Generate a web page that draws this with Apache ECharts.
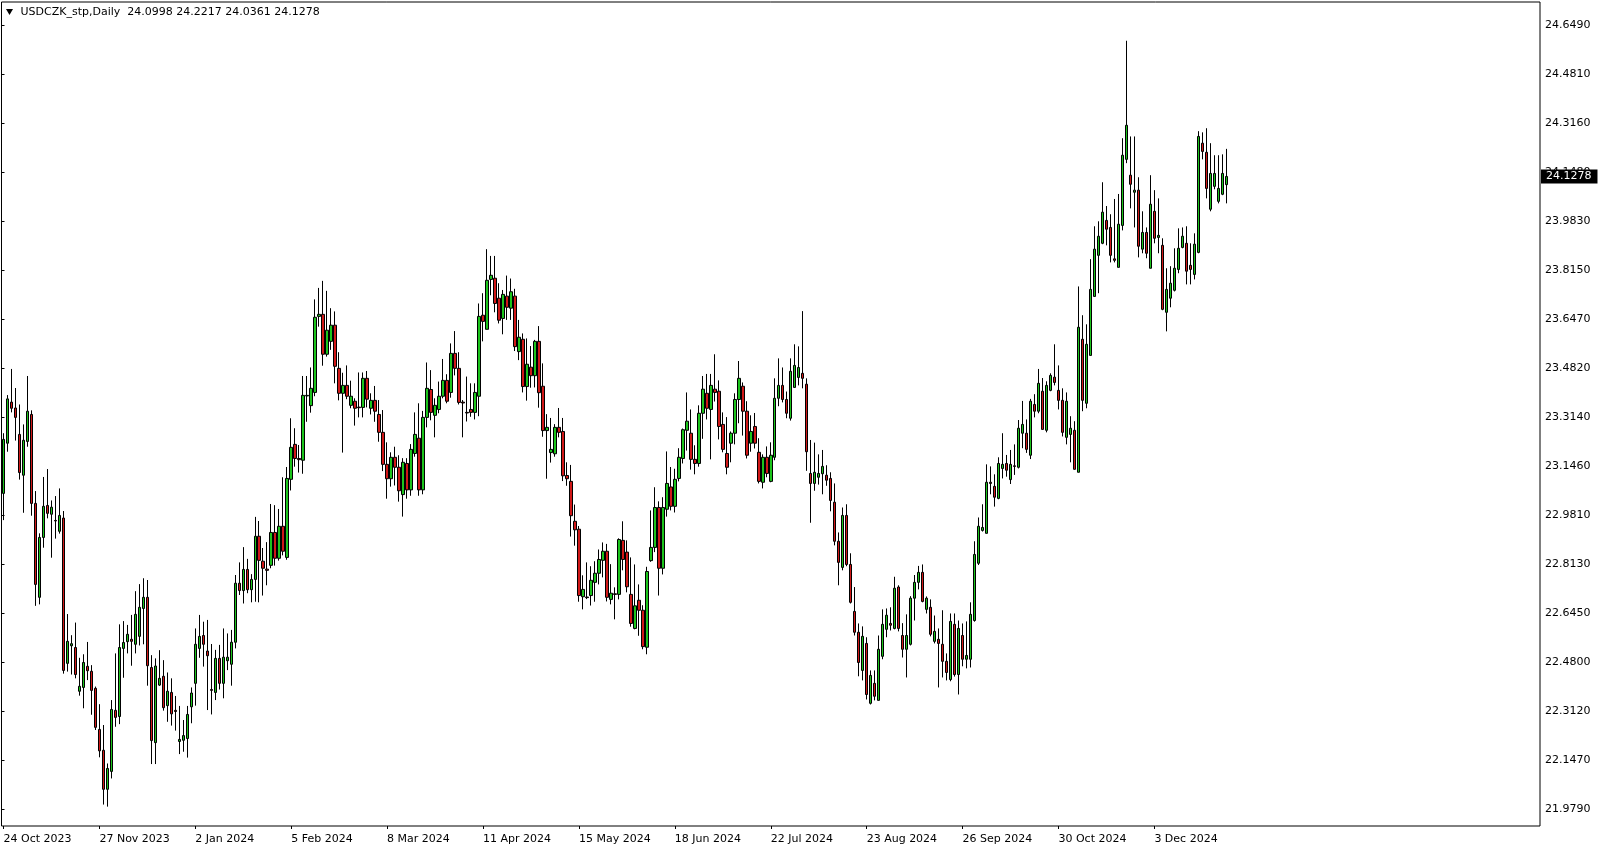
<!DOCTYPE html>
<html>
<head>
<meta charset="utf-8">
<script src="https://cdn.jsdelivr.net/npm/echarts@6/dist/echarts.min.js"></script>
<style>
html,body{margin:0;padding:0;background:#fff;}
#c{width:1604px;height:850px;}
</style>
</head>
<body>
<div id="c"></div>
<script>
const symbolName = 'USDCZK_stp,Daily';
const startDate = '2023-10-24';
const skipDays = ['12-25', '01-01'];
const slotCount = 385;
const labelEvery = 24;
const monthNames = ['Jan','Feb','Mar','Apr','May','Jun','Jul','Aug','Sep','Oct','Nov','Dec'];
const priceTicks = ['21.9790','22.1470','22.3120','22.4800','22.6450','22.8130','22.9810','23.1460','23.3140','23.4820','23.6470','23.8150','23.9830','24.1480','24.3160','24.4810','24.6490'];

const opens = [
23.048,23.219,23.359,23.339,23.249,23.110,23.225,23.317,23.014,22.694,
22.898,23.007,22.977,22.956,22.919,22.964,22.469,22.529,22.523,22.374,
22.387,22.459,22.442,22.384,22.244,22.173,22.040,22.101,22.309,22.288,
22.520,22.543,22.551,22.534,22.561,22.656,22.694,22.455,22.199,22.395,
22.425,22.325,22.370,22.309,22.203,22.207,22.213,22.321,22.401,22.520,
22.564,22.511,22.380,22.370,22.486,22.401,22.478,22.466,22.541,22.742,
22.717,22.789,22.720,22.755,22.902,22.817,22.790,22.803,22.915,22.827,
22.936,22.830,23.096,23.215,23.167,23.161,23.380,23.347,23.392,23.651,
23.658,23.522,23.566,23.621,23.474,23.389,23.416,23.348,23.362,23.342,
23.341,23.440,23.338,23.365,23.317,23.256,23.147,23.098,23.171,23.137,
23.044,23.150,23.060,23.184,23.236,23.060,23.307,23.402,23.314,23.334,
23.379,23.433,23.392,23.525,23.474,23.359,23.324,23.334,23.324,23.379,
23.655,23.607,23.777,23.781,23.713,23.644,23.720,23.679,23.720,23.531,
23.573,23.412,23.478,23.449,23.566,23.413,23.262,23.187,23.183,23.273,
23.259,23.109,23.089,22.953,22.926,22.696,22.695,22.700,22.745,22.776,
22.820,22.851,22.687,22.706,22.704,22.888,22.848,22.704,22.588,22.684,
22.650,22.524,22.819,22.864,23.000,22.793,22.994,23.070,23.004,23.099,
23.167,23.263,23.253,23.164,23.150,23.321,23.389,23.334,23.403,23.396,
23.283,23.184,23.219,23.253,23.368,23.413,23.328,23.219,23.276,23.188,
23.086,23.171,23.089,23.171,23.372,23.416,23.368,23.304,23.409,23.443,
23.457,23.420,23.116,23.082,23.103,23.115,23.110,23.099,23.018,22.885,
22.796,22.973,22.806,22.646,22.575,22.445,22.537,22.333,22.401,22.343,
22.493,22.585,22.605,22.588,22.729,22.564,22.517,22.534,22.691,22.745,
22.779,22.653,22.660,22.544,22.551,22.534,22.476,22.414,22.602,22.431,
22.564,22.483,22.483,22.615,22.810,22.922,22.912,23.086,23.072,23.031,
23.133,23.150,23.095,23.142,23.137,23.253,23.253,23.178,23.351,23.328,
23.396,23.263,23.399,23.444,23.399,23.365,23.239,23.249,23.263,23.120,
23.573,23.355,23.518,23.719,23.859,23.900,23.978,23.954,23.847,23.818,
23.961,24.186,24.132,24.074,24.081,23.880,23.937,23.815,24.009,23.920,
23.893,23.665,23.713,23.740,23.811,23.886,23.900,23.825,23.794,23.869,
24.241,24.210,24.016,24.094,24.043,24.067,24.0998
];
const highs = [
23.253,23.383,23.472,23.407,23.351,23.283,23.448,23.331,23.056,22.912,
23.104,23.131,23.024,23.039,23.065,22.988,22.637,22.565,22.608,22.488,
22.500,22.542,22.463,22.390,22.330,22.259,22.128,22.344,22.503,22.602,
22.613,22.600,22.634,22.715,22.739,22.759,22.753,22.497,22.486,22.514,
22.480,22.438,22.418,22.358,22.324,22.276,22.324,22.387,22.588,22.634,
22.611,22.617,22.535,22.515,22.532,22.588,22.571,22.583,22.770,22.813,
22.865,22.825,22.773,22.968,22.954,22.862,22.882,23.012,23.008,22.995,
23.103,23.138,23.304,23.270,23.213,23.448,23.448,23.477,23.709,23.748,
23.772,23.738,23.679,23.668,23.529,23.459,23.484,23.432,23.372,23.460,
23.460,23.465,23.389,23.414,23.366,23.332,23.222,23.188,23.207,23.178,
23.168,23.168,23.216,23.324,23.355,23.329,23.494,23.468,23.372,23.429,
23.506,23.454,23.559,23.601,23.529,23.366,23.446,23.423,23.423,23.695,
23.730,23.880,23.857,23.857,23.764,23.741,23.790,23.780,23.745,23.639,
23.593,23.576,23.550,23.571,23.618,23.491,23.318,23.305,23.284,23.339,
23.305,23.154,23.145,23.010,22.937,22.769,22.813,22.800,22.817,22.857,
22.881,22.876,22.807,22.728,22.895,22.953,22.888,22.830,22.806,22.738,
22.667,22.798,22.990,23.069,23.021,23.035,23.191,23.138,23.132,23.202,
23.269,23.392,23.334,23.212,23.348,23.448,23.455,23.455,23.522,23.433,
23.324,23.308,23.259,23.389,23.499,23.426,23.362,23.314,23.322,23.236,
23.181,23.208,23.222,23.440,23.508,23.477,23.395,23.508,23.556,23.549,
23.669,23.440,23.230,23.221,23.181,23.196,23.144,23.120,23.082,22.915,
23.000,23.011,22.844,22.729,22.605,22.595,22.558,22.445,22.445,22.564,
22.653,22.656,22.660,22.764,22.735,22.606,22.636,22.698,22.770,22.801,
22.806,22.697,22.687,22.632,22.588,22.650,22.503,22.639,22.639,22.615,
22.605,22.612,22.677,22.885,22.966,23.011,23.147,23.140,23.113,23.171,
23.253,23.179,23.196,23.215,23.298,23.363,23.300,23.370,23.386,23.472,
23.441,23.430,23.457,23.556,23.484,23.406,23.392,23.311,23.294,23.753,
23.655,23.624,23.846,23.958,23.975,24.108,24.027,23.999,24.051,24.068,
24.258,24.590,24.264,24.264,24.125,24.009,23.954,24.132,24.081,24.053,
23.917,23.815,23.822,23.883,23.951,23.954,23.958,23.900,23.934,24.282,
24.278,24.292,24.241,24.200,24.200,24.203,24.2217
];
const lows = [
22.957,23.190,23.324,23.228,23.095,22.982,23.207,22.972,22.665,22.670,
22.863,22.963,22.829,22.894,22.911,22.434,22.441,22.431,22.418,22.359,
22.316,22.412,22.294,22.242,22.149,21.988,21.981,22.077,22.253,22.262,
22.420,22.503,22.461,22.503,22.530,22.534,22.393,22.126,22.126,22.392,
22.308,22.270,22.257,22.240,22.160,22.168,22.148,22.265,22.325,22.488,
22.458,22.310,22.295,22.344,22.380,22.350,22.446,22.393,22.520,22.702,
22.673,22.708,22.677,22.679,22.677,22.700,22.735,22.793,22.802,22.819,
22.837,22.822,23.058,23.139,23.119,23.115,23.292,23.323,23.379,23.616,
23.483,23.514,23.537,23.423,23.365,23.187,23.369,23.338,23.279,23.307,
23.307,23.341,23.317,23.292,23.224,23.124,23.030,23.071,23.075,23.020,
22.969,23.030,23.040,23.173,23.040,23.045,23.273,23.297,23.239,23.321,
23.372,23.355,23.374,23.450,23.351,23.239,23.293,23.309,23.300,23.311,
23.566,23.607,23.723,23.665,23.627,23.590,23.639,23.639,23.533,23.502,
23.392,23.364,23.408,23.409,23.340,23.241,23.098,23.153,23.173,23.239,
23.090,23.074,22.901,22.870,22.679,22.653,22.688,22.666,22.679,22.738,
22.762,22.680,22.670,22.619,22.687,22.786,22.711,22.594,22.585,22.563,
22.517,22.500,22.815,22.848,22.700,22.772,22.969,22.990,22.983,23.089,
23.150,23.194,23.129,23.113,23.139,23.234,23.300,23.164,23.361,23.232,
23.188,23.113,23.154,23.215,23.287,23.245,23.167,23.190,23.201,23.082,
23.065,23.103,23.086,23.161,23.345,23.358,23.304,23.296,23.409,23.416,
23.406,23.125,22.948,23.057,23.078,23.045,23.074,22.987,22.871,22.735,
22.786,22.800,22.673,22.564,22.425,22.411,22.346,22.329,22.343,22.343,
22.483,22.558,22.581,22.585,22.578,22.489,22.421,22.530,22.615,22.721,
22.677,22.639,22.561,22.537,22.387,22.421,22.411,22.408,22.424,22.363,
22.459,22.452,22.455,22.611,22.804,22.918,22.912,23.045,23.003,23.028,
23.099,23.105,23.080,23.111,23.133,23.202,23.186,23.165,23.307,23.321,
23.266,23.256,23.396,23.416,23.334,23.242,23.215,23.154,23.130,23.120,
23.328,23.338,23.518,23.719,23.730,23.897,23.893,23.835,23.835,23.818,
23.944,24.173,24.019,23.954,23.852,23.866,23.849,23.815,23.900,23.866,
23.672,23.600,23.682,23.736,23.798,23.883,23.760,23.760,23.777,23.866,
24.186,24.053,24.009,24.084,24.036,24.064,24.0361
];
const closes = [
23.232,23.370,23.338,23.307,23.119,23.229,23.328,23.014,22.738,22.898,
23.004,22.980,23.001,22.954,22.973,22.445,22.544,22.536,22.431,22.391,
22.472,22.444,22.377,22.251,22.171,22.040,22.111,22.312,22.285,22.523,
22.540,22.568,22.544,22.636,22.660,22.694,22.461,22.206,22.460,22.418,
22.318,22.374,22.297,22.305,22.210,22.223,22.295,22.368,22.534,22.561,
22.534,22.495,22.377,22.486,22.401,22.490,22.490,22.541,22.742,22.717,
22.789,22.720,22.755,22.902,22.820,22.793,22.786,22.915,22.827,22.936,
22.851,23.099,23.205,23.167,23.163,23.382,23.382,23.406,23.648,23.658,
23.522,23.604,23.621,23.481,23.389,23.416,23.379,23.379,23.338,23.340,
23.440,23.369,23.365,23.328,23.256,23.147,23.098,23.171,23.137,23.057,
23.154,23.060,23.198,23.249,23.060,23.307,23.406,23.324,23.348,23.379,
23.433,23.362,23.525,23.474,23.358,23.356,23.322,23.324,23.392,23.651,
23.634,23.774,23.791,23.695,23.638,23.726,23.682,23.735,23.548,23.580,
23.412,23.488,23.449,23.566,23.391,23.262,23.273,23.198,23.273,23.256,
23.108,23.098,22.972,22.924,22.700,22.721,22.693,22.752,22.776,22.823,
22.851,22.694,22.708,22.704,22.891,22.823,22.730,22.605,22.665,22.650,
22.526,22.782,22.864,23.000,22.793,23.000,23.082,23.004,23.096,23.171,
23.265,23.294,23.164,23.150,23.321,23.403,23.338,23.416,23.392,23.276,
23.198,23.137,23.253,23.368,23.440,23.328,23.178,23.259,23.219,23.089,
23.171,23.116,23.178,23.372,23.416,23.368,23.321,23.464,23.484,23.477,
23.440,23.190,23.082,23.120,23.116,23.140,23.093,23.024,22.885,22.813,
22.973,22.806,22.677,22.575,22.472,22.561,22.363,22.428,22.357,22.517,
22.602,22.633,22.599,22.725,22.588,22.517,22.564,22.691,22.745,22.779,
22.680,22.691,22.568,22.578,22.537,22.476,22.438,22.612,22.431,22.588,
22.483,22.496,22.636,22.840,22.936,22.932,23.086,23.082,23.035,23.150,
23.147,23.127,23.147,23.140,23.270,23.283,23.198,23.362,23.328,23.423,
23.266,23.416,23.450,23.426,23.365,23.256,23.362,23.270,23.130,23.614,
23.365,23.556,23.743,23.880,23.924,24.006,23.948,23.859,23.842,23.965,
24.200,24.302,24.101,24.081,23.890,23.937,23.866,24.033,23.917,23.927,
23.675,23.743,23.764,23.815,23.883,23.924,23.805,23.811,23.897,24.264,
24.213,24.087,24.138,24.138,24.087,24.138,24.1278
];

// trading-day calendar (weekdays, skipping listed holidays)
function tradingDays(start, count) {
  const out = [];
  const d = new Date(start + 'T00:00:00Z');
  while (out.length < count) {
    const wd = d.getUTCDay();
    const mmdd = String(d.getUTCMonth() + 1).padStart(2, '0') + '-' + String(d.getUTCDate()).padStart(2, '0');
    if (wd !== 0 && wd !== 6 && skipDays.indexOf(mmdd) < 0) out.push(d.toISOString().slice(0, 10));
    d.setUTCDate(d.getUTCDate() + 1);
  }
  return out;
}
const dates = tradingDays(startDate, slotCount);
function fmtDate(s) {
  const p = s.split('-');
  return (+p[2]) + ' ' + monthNames[+p[1] - 1] + ' ' + p[0];
}

const n = closes.length;
const candles = opens.map((o, i) => [o, closes[i], lows[i], highs[i]]);
const last = n - 1;
const header = symbolName + '  ' + [opens[last], highs[last], lows[last], closes[last]].map(v => v.toFixed(4)).join(' ');

const FONT = '"DejaVu Sans", Verdana, sans-serif';
const UP = '#1cc41c';
const DOWN = '#d01818';

const chart = echarts.init(document.getElementById('c'), null, { renderer: 'canvas' });
chart.setOption({
  animation: false,
  backgroundColor: '#ffffff',
  grid: [
    { left: 1.5, right: 64, top: 2, bottom: 24, show: true, borderColor: '#000', borderWidth: 1, backgroundColor: 'transparent' },
    { left: 1.5, right: 64, top: 25.5, bottom: 40.8, show: false }
  ],
  xAxis: [
    {
      type: 'category', gridIndex: 0, data: dates, boundaryGap: true,
      axisLine: { show: false },
      axisTick: { show: true, alignWithLabel: true, length: 3, lineStyle: { color: '#000' },
        interval: (idx) => idx % labelEvery === 0 && idx < n },
      axisLabel: { show: true, align: 'left', margin: 8, color: '#000', fontSize: 11, fontFamily: FONT,
        interval: (idx) => idx % labelEvery === 0 && idx < n,
        formatter: (v) => fmtDate(v) },
      splitLine: { show: false }
    },
    { type: 'value', gridIndex: 1, show: false, min: 0, max: 1 }
  ],
  yAxis: [
    { type: 'value', gridIndex: 0, min: 21.915, max: 24.722, show: false, splitLine: { show: false } },
    {
      type: 'category', gridIndex: 1, data: priceTicks, boundaryGap: false, position: 'right',
      axisLine: { show: false },
      axisTick: { show: true, length: 3, lineStyle: { color: '#000' } },
      axisLabel: { show: true, interval: 0, margin: 5, color: '#000', fontSize: 11, fontFamily: FONT },
      splitLine: { show: false }
    }
  ],
  series: [{
    type: 'candlestick',
    xAxisIndex: 0, yAxisIndex: 0,
    data: candles,
    barWidth: 3,
    large: false,
    itemStyle: { color: UP, color0: DOWN, borderColor: '#000', borderColor0: '#000', borderColorDoji: '#000', borderWidth: 1 },
    emphasis: { disabled: true },
    markLine: {
      silent: true,
      symbol: ['none', 'none'],
      animation: false,
      precision: 4,
      z: 10,
      lineStyle: { width: 1, type: 'solid', color: 'rgba(0,0,0,0)' },
      label: {
        show: true, position: 'end', distance: 1,
        formatter: (p) => Number(p.value).toFixed(4),
        backgroundColor: '#000', color: '#fff', fontSize: 11, fontFamily: FONT,
        lineHeight: 13, padding: [1, 6, 0, 5]
      },
      data: [{ yAxis: closes[last] }]
    }
  }],
  graphic: [
    { type: 'polygon', shape: { points: [[6, 9], [13, 9], [9.5, 15]] }, style: { fill: '#000' }, z: 100 },
    { type: 'text', x: 20.5, y: 12.5, z: 100, style: { text: header, font: '11px ' + FONT, fill: '#000', verticalAlign: 'middle', align: 'left' } }
  ]
});
</script>
</body>
</html>
